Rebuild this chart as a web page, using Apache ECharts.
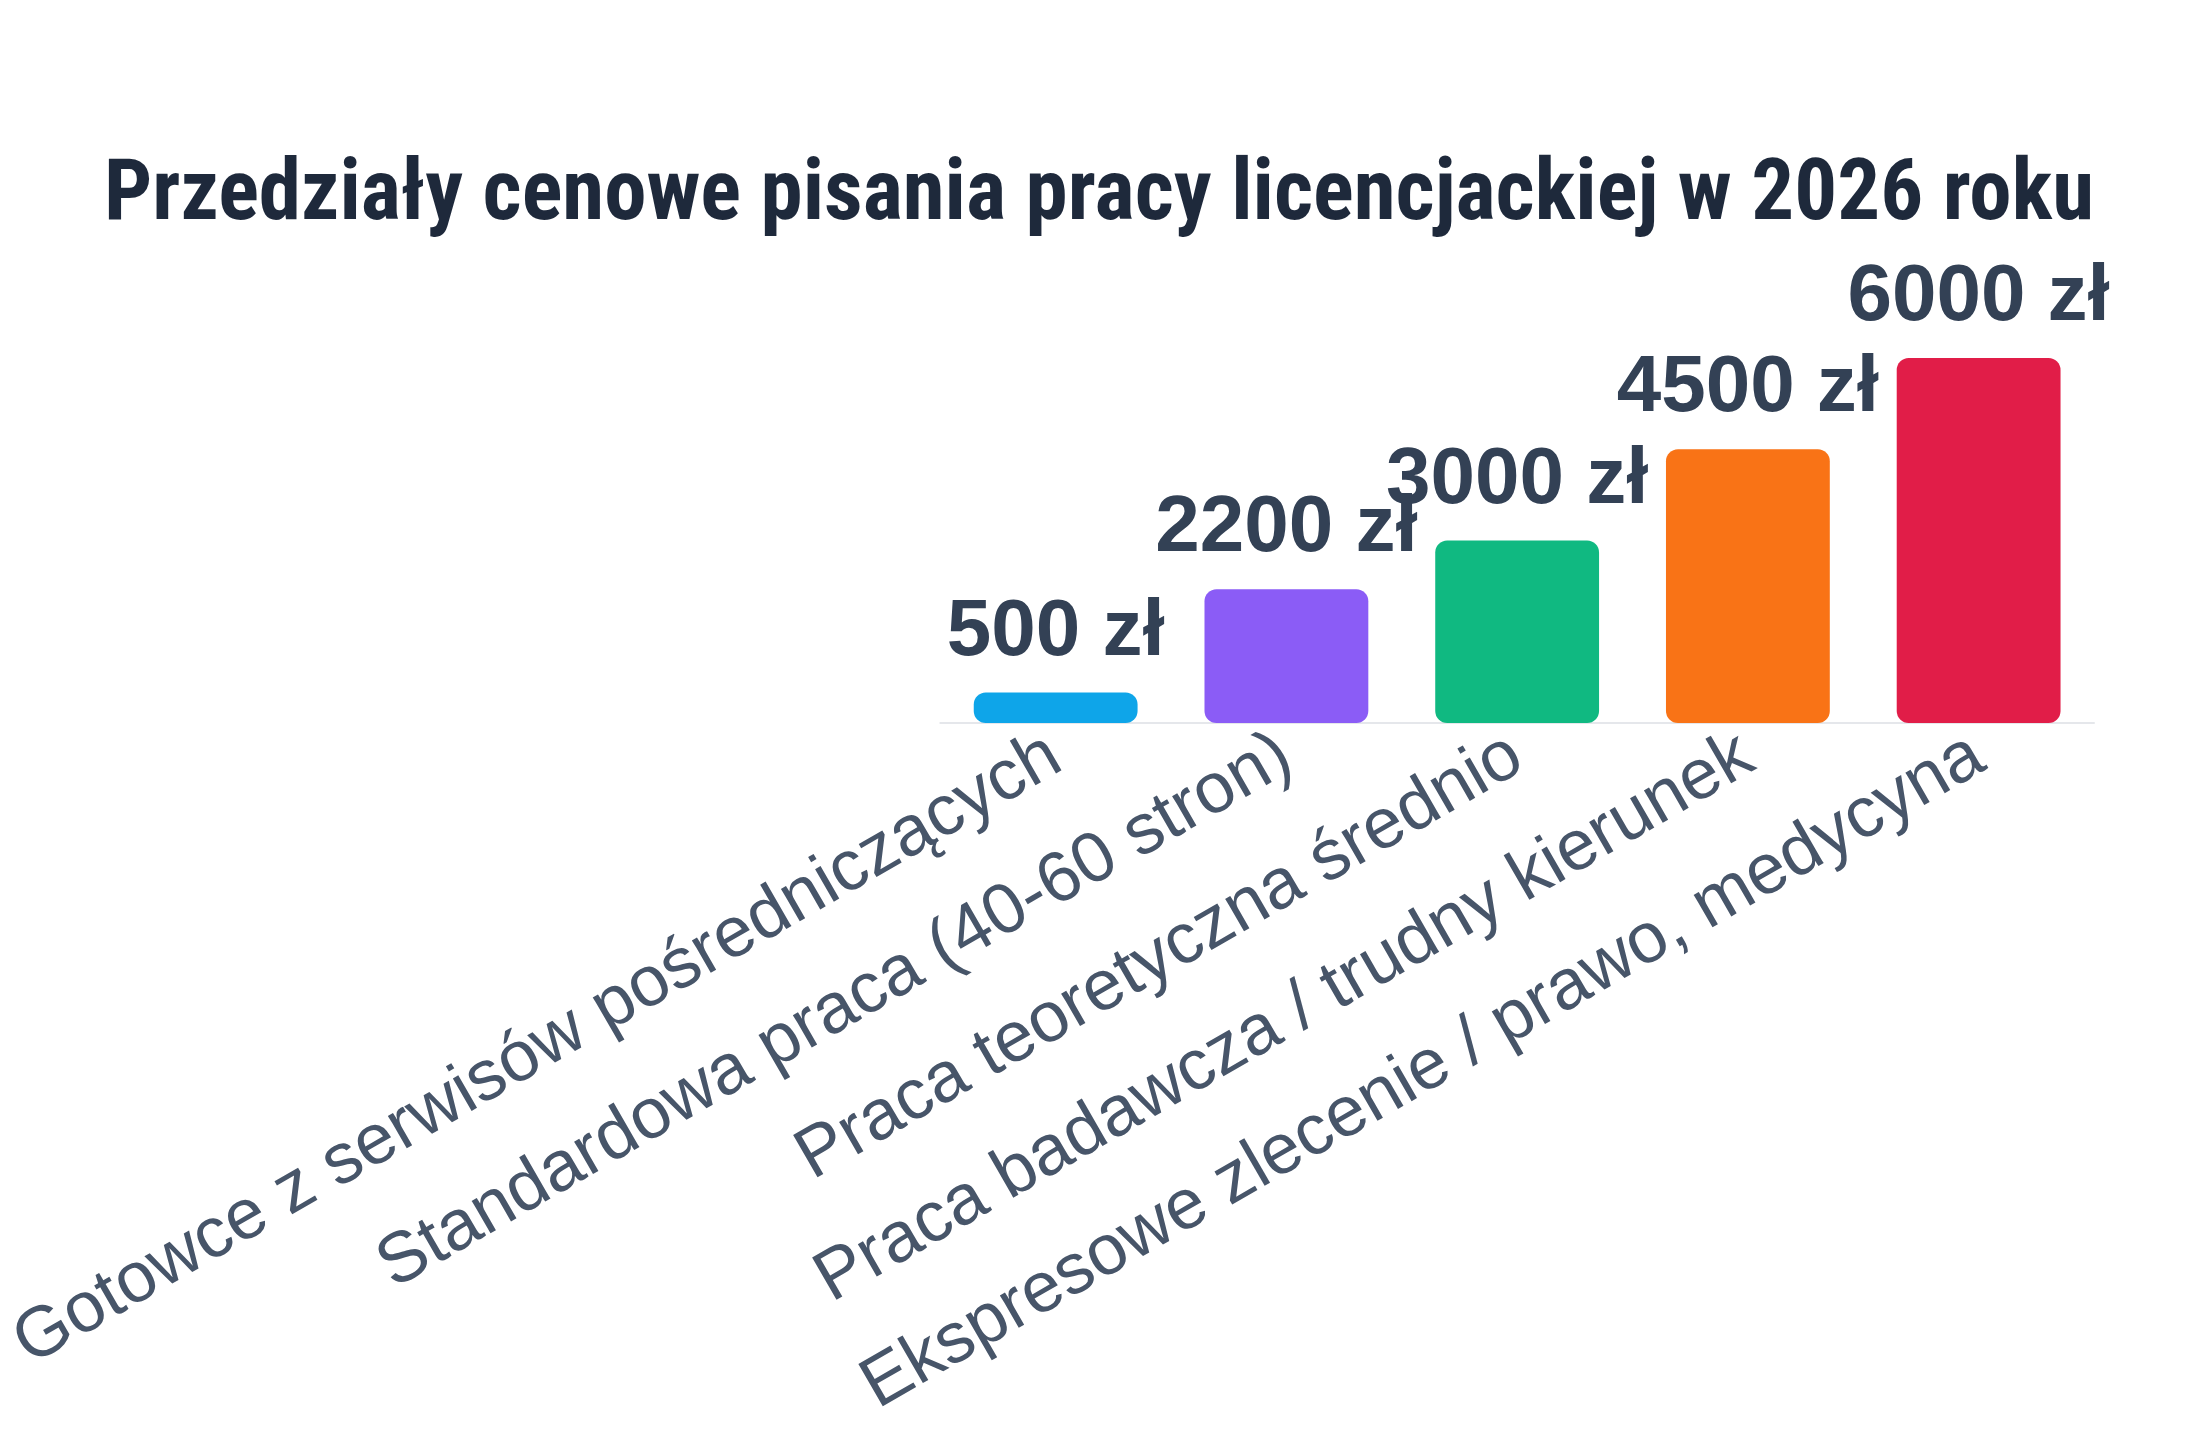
<!DOCTYPE html>
<html><head><meta charset="utf-8">
<script src="https://cdn.jsdelivr.net/npm/echarts@6/dist/echarts.min.js"></script>
<style>html,body{margin:0;background:#fff}#c{width:2200px;height:1440px}</style>
</head><body><div id="c"></div>
<script>
const categories = ["Gotowce z serwisów pośredniczących","Standardowa praca (40-60 stron)","Praca teoretyczna średnio","Praca badawcza / trudny kierunek","Ekspresowe zlecenie / prawo, medycyna"];
const values = [500, 2200, 3000, 4500, 6000];
const colors = ["#0ea5e9","#8b5cf6","#10b981","#f97316","#e11d48"];
const chart = echarts.init(document.getElementById('c'));
chart.setOption({
  backgroundColor:'#fff',
  title:{text:'Przedziały cenowe pisania pracy licencjackiej w 2026 roku',left:1094,textAlign:'center',top:150,
    textStyle:{fontFamily:'"Liberation Sans Narrow","Roboto Condensed","Liberation Sans",sans-serif',fontWeight:'bold',fontSize:85,color:'#1e293b'}},
  grid:{left:939,right:106,top:358,bottom:717},
  xAxis:{type:'category',data:categories,axisTick:{show:false},
    axisLine:{lineStyle:{color:'#e5e7eb',width:2}},
    axisLabel:{rotate:30,interval:0,margin:28,fontSize:71,color:'#475569',fontFamily:'"Liberation Sans",Arial,sans-serif'}},
  yAxis:{type:'value',min:0,max:6000,show:false,splitLine:{show:false}},
  series:[{type:'bar',barWidth:'71%',
    data:values.map((v,i)=>({value:v,itemStyle:{color:colors[i],borderRadius:12}})),
    label:{show:true,position:'top',distance:20,formatter:p=>p.value+' zł',fontSize:80,fontWeight:'bold',color:'#334155',fontFamily:'"Liberation Sans",Arial,sans-serif'}}]
});
</script></body></html>
